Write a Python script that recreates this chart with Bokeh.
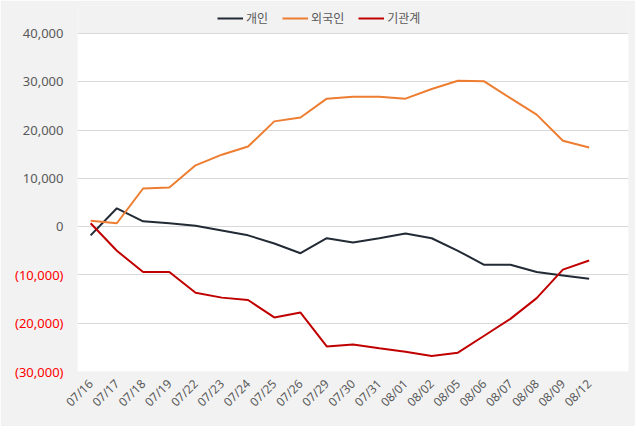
from bokeh.plotting import figure
from bokeh.models import (Range1d, FixedTicker, LinearAxis, Legend, LegendItem,
                          NumeralTickFormatter, BoxAnnotation)
from bokeh.embed import file_html
from bokeh.resources import INLINE
import math

dates = ["07/16", "07/17", "07/18", "07/19", "07/22", "07/23", "07/24", "07/25", "07/26",
         "07/29", "07/30", "07/31", "08/01", "08/02", "08/05", "08/06", "08/07", "08/08",
         "08/09", "08/12"]
individual = [-1800, 3800, 1100, 700, 200, -800, -1800, -3500, -5500, -2400, -3300, -2400,
              -1400, -2400, -5000, -7900, -7900, -9400, -10100, -10800]
foreign = [1200, 700, 7900, 8100, 12700, 14900, 16600, 21800, 22600, 26500, 26900, 26900,
           26500, 28500, 30200, 30100, 26600, 23200, 17800, 16400]
institution = [700, -5000, -9400, -9400, -13700, -14700, -15200, -18800, -17800, -24800,
               -24400, -25200, -25900, -26800, -26100, -22600, -19100, -14800, -8900, -7000]
pos_ticks = [0, 10000, 20000, 30000, 40000]
neg_ticks = [-10000, -20000, -30000]
series_names = ["개인", "외국인", "기관계"]
series_colors = ["#222a35", "#ed7d31", "#c00000"]

y_min, y_max = -30000, 40000
xs = list(range(len(dates)))

# frame extends above the 40,000 line so the legend can sit inside it
frame_top_px, axis_top_px, frame_bottom_px = 5, 33, 371
extra = (axis_top_px - frame_top_px) * (y_max - y_min) / (frame_bottom_px - axis_top_px)

p = figure(width=635, height=426, output_backend="svg", toolbar_location=None,
           x_range=Range1d(-0.5, len(dates) + 0.5), y_range=Range1d(y_min, y_max + extra),
           y_axis_location=None,
           min_border_left=77, min_border_right=7, min_border_top=frame_top_px,
           min_border_bottom=55)
p.background_fill_color = "#f2f2f2"
p.border_fill_color = "#f2f2f2"
p.outline_line_color = None

# white plot area from -30,000 to 40,000
p.add_layout(BoxAnnotation(bottom=y_min, top=y_max, fill_color="white", fill_alpha=1,
                           line_color=None, level="image"))

# x axis
p.xaxis.ticker = FixedTicker(ticks=xs)
p.xaxis.major_label_overrides = {i: d for i, d in enumerate(dates)}
p.xaxis.major_label_orientation = math.pi / 4
p.xaxis.major_label_text_color = "#595959"
p.xaxis.major_label_text_font = "Noto Sans"
p.xaxis.major_label_text_font_size = "12px"
p.xaxis.axis_line_color = None
p.xaxis.major_tick_line_color = None
p.xaxis.minor_tick_line_color = None
p.xaxis.major_label_standoff = 4
p.xgrid.grid_line_color = None

# y axes: positive (grey, inner) and negative (red, outer, shifted over)
ax_pos = LinearAxis(ticker=FixedTicker(ticks=pos_ticks),
                    formatter=NumeralTickFormatter(format="0,0"))
ax_neg = LinearAxis(ticker=FixedTicker(ticks=neg_ticks),
                    formatter=NumeralTickFormatter(format="(0,0)"))
for ax, col in ((ax_neg, "#ff0000"), (ax_pos, "#595959")):
    ax.major_label_text_color = col
    ax.major_label_text_font = "Noto Sans"
    ax.major_label_text_font_size = "13px"
    ax.axis_line_color = None
    ax.major_tick_line_color = None
    ax.minor_tick_line_color = None
    ax.major_tick_in = 0
    ax.major_tick_out = 0
ax_pos.major_label_standoff = 14
ax_neg.major_label_standoff = -44
p.add_layout(ax_pos, "left")
p.add_layout(ax_neg, "left")

p.ygrid.ticker = FixedTicker(ticks=pos_ticks + neg_ticks)
p.ygrid.grid_line_color = "#d9d9d9"
p.ygrid.grid_line_width = 1

items = []
for name, col, vals in zip(series_names, series_colors, [individual, foreign, institution]):
    r = p.line(xs, vals, line_color=col, line_width=2)
    items.append(LegendItem(label=name, renderers=[r]))

legend = Legend(items=items, orientation="horizontal", location=(140, 345))
legend.background_fill_alpha = 0
legend.border_line_color = None
legend.label_text_font = "Noto Sans CJK KR"
legend.label_text_font_size = "12px"
legend.label_text_color = "#595959"
legend.glyph_width = 26
legend.glyph_height = 12
legend.label_standoff = 3
legend.spacing = 14
legend.padding = 0
legend.margin = 0
p.add_layout(legend)

open("out.html", "w").write(file_html(p, INLINE))
